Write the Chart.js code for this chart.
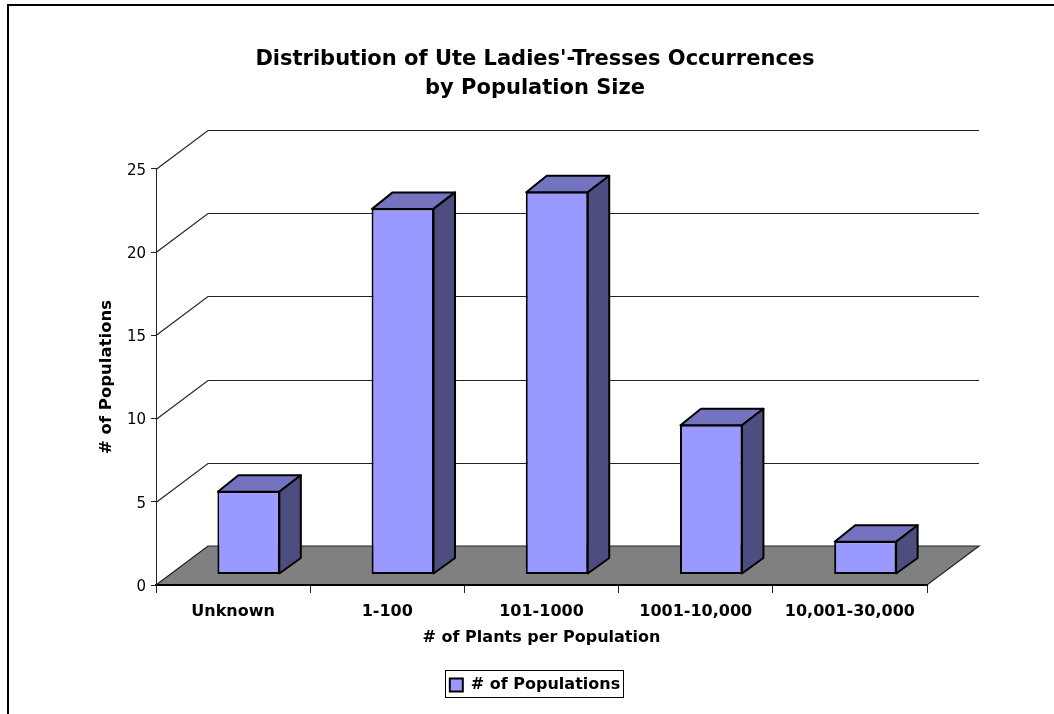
<!DOCTYPE html>
<html><head><meta charset="utf-8">
<style>html,body{margin:0;padding:0;background:#fff}canvas{display:block}</style>
<script src="https://cdn.jsdelivr.net/npm/chart.js@4"></script></head>
<body><canvas id="c" width="1054" height="714"></canvas>
<script>
const categories = ["Unknown","1-100","101-1000","1001-10,000","10,001-30,000"];
const populations = [5,22,23,9,2];
const seriesName = "# of Populations";
const titleLines = ["Distribution of Ute Ladies'-Tresses Occurrences","by Population Size"];
const xTitle = "# of Plants per Population";
const yTitle = "# of Populations";
const FONT = "'DejaVu Sans'";
const WALL = {dx:52, dy:-39};
const BAR = {dx:21, dy:-16, ox:15.5, oy:-10.5};
const plugin3d = {
  id:'plugin3d',
  beforeDraw(chart){
    const c=chart.ctx,a=chart.chartArea,y=chart.scales.y;
    c.save();c.fillStyle='#fff';c.fillRect(0,0,1054,714);
    c.strokeStyle='#000';c.lineWidth=2;
    c.beginPath();c.moveTo(8,714);c.lineTo(8,5);c.lineTo(1054,5);c.stroke();
    c.fillStyle='#808080';
    c.beginPath();c.moveTo(a.left,a.bottom);c.lineTo(a.left+WALL.dx,a.bottom+WALL.dy);
    c.lineTo(a.right+WALL.dx,a.bottom+WALL.dy);c.lineTo(a.right,a.bottom);c.closePath();c.fill();
    c.strokeStyle='#222';c.lineWidth=1.2;c.stroke();
    y.ticks.forEach(t=>{
      if(t.value===0)return;
      const p=Math.round(y.getPixelForValue(t.value))+.5;
      c.beginPath();c.moveTo(a.left,p);c.lineTo(a.left+WALL.dx,p+WALL.dy);
      c.lineTo(a.right+WALL.dx,p+WALL.dy);c.stroke();
    });
    c.restore();
  },
  beforeDatasetDraw(chart){
    const c=chart.ctx;
    c.save();c.translate(BAR.ox,BAR.oy);
    chart.getDatasetMeta(0).data.forEach(b=>{
      const l=b.x-b.width/2,r=b.x+b.width/2,t=b.y,bt=b.base;
      c.lineWidth=2;c.strokeStyle='#000';c.lineJoin='round';
      c.fillStyle='#7373BF';
      c.beginPath();c.moveTo(l+.5,t+.5);c.lineTo(l+BAR.dx,t+BAR.dy);c.lineTo(r+BAR.dx,t+BAR.dy);c.lineTo(r-.5,t+.5);c.closePath();c.fill();c.stroke();
      c.fillStyle='#4D4D80';
      c.beginPath();c.moveTo(r-.5,t+.5);c.lineTo(r+BAR.dx,t+BAR.dy);c.lineTo(r+BAR.dx,bt+BAR.dy);c.lineTo(r-.5,bt-.5);c.closePath();c.fill();c.stroke();
    });
  },
  afterDatasetDraw(chart){ chart.ctx.restore(); },
  afterDraw(chart){
    const c=chart.ctx,l=chart.legend;
    c.save();c.strokeStyle='#000';c.lineWidth=1;
    c.strokeRect(445.5,Math.round(l.top)+.5,178,27);
    c.restore();
  }
};
new Chart(document.getElementById('c'),{
  type:'bar',
  data:{labels:categories,datasets:[{label:seriesName,data:populations,backgroundColor:'#9999FF',borderColor:'#000',borderWidth:2,borderSkipped:false,barPercentage:0.405,categoryPercentage:1,clip:false}]},
  plugins:[plugin3d],
  options:{
    responsive:false,animation:false,
    layout:{padding:{left:16,right:0,top:0,bottom:11}},
    plugins:{
      tooltip:{enabled:false},
      title:{display:true,text:titleLines,color:'#000',font:{family:FONT,size:21,weight:'bold',lineHeight:1.38},padding:{top:45,bottom:66}},
      legend:{position:'bottom',labels:{color:'#000',font:{family:FONT,size:16,weight:'bold'},boxWidth:13,boxHeight:13,padding:7,
        generateLabels:(ch)=>[{text:seriesName,fillStyle:'#9999FF',strokeStyle:'#000',lineWidth:2,datasetIndex:0}]}}
    },
    scales:{
      x:{
        afterFit(s){s.height=85;s.paddingRight=127;s.paddingLeft=0;},
        grid:{drawOnChartArea:false,color:'#222',tickLength:8,tickColor:'#222'},
        border:{color:'#000',width:2},
        ticks:{color:'#000',font:{family:FONT,size:16,weight:'bold'},padding:9,maxRotation:0,autoSkip:false},
        title:{display:true,text:xTitle,color:'#000',font:{family:FONT,size:16,weight:'bold'},padding:{top:0,bottom:23}}
      },
      y:{
        min:0,max:25,
        afterFit(s){s.width=140;},
        grid:{drawOnChartArea:false,color:'#222',tickLength:5,tickColor:'#222'},
        border:{color:'#222',width:1},
        ticks:{stepSize:5,color:'#000',font:{family:FONT,size:15},padding:5,labelOffset:2},
        title:{display:true,text:yTitle,color:'#000',font:{family:FONT,size:16.5,weight:'bold'},padding:{top:81,bottom:0}}
      }
    }
  }
});
</script></body></html>
